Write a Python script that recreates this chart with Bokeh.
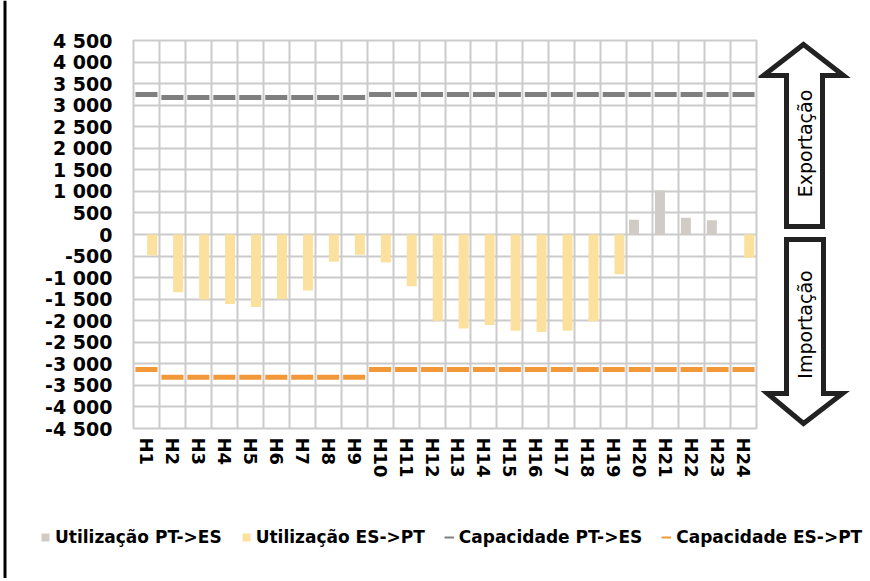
from bokeh.plotting import figure
from bokeh.layouts import row, column
from bokeh.models import (FixedTicker, Legend, LegendItem, ColumnDataSource, Range1d)
from bokeh.embed import file_html
from bokeh.resources import INLINE
from bokeh.core.properties import value
import math

# ---------------- data ----------------
hours = ["H1", "H2", "H3", "H4", "H5", "H6", "H7", "H8", "H9", "H10", "H11", "H12",
         "H13", "H14", "H15", "H16", "H17", "H18", "H19", "H20", "H21", "H22", "H23", "H24"]
util_pt_es = [0, 0, 0, 0, 0, 0, 0, 0, 0, 0, 0, 0,
              0, 0, 0, 0, 0, 0, 0, 340, 1020, 390, 330, 0]
util_es_pt = [-490, -1340, -1510, -1610, -1680, -1500, -1300, -630, -470, -650, -1200, -2000,
              -2180, -2100, -2230, -2260, -2230, -2010, -920, 0, 0, 0, 0, -540]
cap_pt_es = [3250, 3180, 3180, 3180, 3180, 3180, 3180, 3180, 3180, 3250, 3250, 3250,
             3250, 3250, 3250, 3250, 3250, 3250, 3250, 3250, 3250, 3250, 3250, 3250]
cap_es_pt = [-3130, -3310, -3310, -3310, -3310, -3310, -3310, -3310, -3310, -3130, -3130, -3130,
             -3130, -3130, -3130, -3130, -3130, -3130, -3130, -3130, -3130, -3130, -3130, -3130]
y_ticks = [-4500, -4000, -3500, -3000, -2500, -2000, -1500, -1000, -500, 0,
           500, 1000, 1500, 2000, 2500, 3000, 3500, 4000, 4500]
y_labels = ["-4 500", "-4 000", "-3 500", "-3 000", "-2 500", "-2 000", "-1 500", "-1 000", "-500", "0",
            "500", "1 000", "1 500", "2 000", "2 500", "3 000", "3 500", "4 000", "4 500"]
legend_labels = ["Utilização PT->ES", "Utilização ES->PT", "Capacidade PT->ES", "Capacidade ES->PT"]
arrow_labels = ["Exportação", "Importação"]

# ---------------- style ----------------
FONT = "DejaVu Sans"
C_PT = "#d0cbc5"
C_ES = "#fbe19d"
C_CAP_PT = "#7f7f7f"
C_CAP_ES = "#f29838"
GRID = "#cbcbcb"
INK = "#222222"

# ---------------- main chart ----------------
xpos = list(range(1, len(hours) + 1))
src = ColumnDataSource(dict(
    x=xpos,
    x_pt=[v - 0.22 for v in xpos],
    x_es=[v + 0.22 for v in xpos],
    pt=util_pt_es, es=util_es_pt, cpt=cap_pt_es, ces=cap_es_pt,
))

p = figure(frame_width=623, frame_height=388,
           x_range=(0.5, len(hours) + 0.5), y_range=(-4500, 4500),
           output_backend="svg", toolbar_location=None,
           min_border_left=125, min_border_right=2,
           min_border_top=40, min_border_bottom=72)
p.background_fill_color = "white"
p.border_fill_color = "white"
p.outline_line_color = GRID
p.outline_line_width = 2

p.xgrid.ticker = FixedTicker(ticks=[v - 0.5 for v in xpos] + [len(hours) + 0.5])
p.xgrid.grid_line_color = GRID
p.xgrid.grid_line_width = 2
p.ygrid.ticker = FixedTicker(ticks=y_ticks)
p.ygrid.grid_line_color = GRID
p.ygrid.grid_line_width = 2

p.yaxis.ticker = FixedTicker(ticks=y_ticks)
p.yaxis.major_label_overrides = {t: l for t, l in zip(y_ticks, y_labels)}
p.xaxis.ticker = FixedTicker(ticks=xpos)
p.xaxis.major_label_overrides = {t: l for t, l in zip(xpos, hours)}
p.xaxis.major_label_orientation = "vertical"
for ax in (p.xaxis[0], p.yaxis[0]):
    ax.axis_line_color = None
    ax.major_tick_line_color = None
    ax.minor_tick_line_color = None
    ax.major_tick_out = 0
    ax.major_tick_in = 0
    ax.major_label_text_font = FONT
    ax.major_label_text_font_style = "bold"
    ax.major_label_text_font_size = "19px"
    ax.major_label_text_color = "black"
p.xaxis.major_label_text_font_size = "18px"
p.yaxis.major_label_standoff = 21
p.xaxis.major_label_standoff = 9

p.vbar(x="x_pt", top="pt", bottom=0, width=0.385, source=src,
       fill_color=C_PT, line_color=None)
p.vbar(x="x_es", top="es", bottom=0, width=0.385, source=src,
       fill_color=C_ES, line_color=None)
p.rect(x="x", y="cpt", width=0.85, height=5, height_units="screen", source=src,
       fill_color=C_CAP_PT, line_color=None)
p.rect(x="x", y="ces", width=0.85, height=5, height_units="screen", source=src,
       fill_color=C_CAP_ES, line_color=None)

# ---------------- arrows panel (frame aligned with main frame: page-pixel coords) ----------------
a = figure(width=110, height=500, x_range=Range1d(758, 868), y_range=Range1d(428, 40),
           output_backend="svg", toolbar_location=None,
           x_axis_type=None, y_axis_type=None,
           min_border_left=0, min_border_right=0, min_border_top=40, min_border_bottom=72)
a.grid.visible = False
a.outline_line_color = None
a.background_fill_color = "white"
a.border_fill_color = "white"
arrow_src = ColumnDataSource(dict(
    xs=[[803, 843, 822, 822, 786, 786, 763], [786, 823, 823, 842, 803, 767, 786]],
    ys=[[44, 75, 75, 226, 226, 75, 75], [239, 239, 393, 393, 423, 393, 393]],
))
a.patches(xs="xs", ys="ys", source=arrow_src, fill_color="white",
          line_color=INK, line_width=5, line_join="miter")
lab_src = ColumnDataSource(dict(x=[804, 804], y=[143, 324], t=arrow_labels))
a.text(x="x", y="y", text="t", source=lab_src, angle=math.pi / 2,
       text_align="center", text_baseline="middle",
       text_font=value(FONT), text_font_size="19px", text_color="black")

# ---------------- left frame line ----------------
b = figure(width=8, height=578, x_range=Range1d(0, 8), y_range=Range1d(0, 1),
           output_backend="svg", toolbar_location=None,
           x_axis_type=None, y_axis_type=None,
           min_border_left=0, min_border_right=0, min_border_top=0, min_border_bottom=0)
b.grid.visible = False
b.outline_line_color = None
b.background_fill_color = "white"
b.border_fill_color = "white"
b.quad(left=[3], right=[6], bottom=[0], top=[1], fill_color="black", line_color=None)

# ---------------- legend panel ----------------
g = figure(width=860, height=78, x_range=Range1d(0, 1), y_range=Range1d(0, 1),
           output_backend="svg", toolbar_location=None,
           x_axis_type=None, y_axis_type=None,
           min_border_left=0, min_border_right=0, min_border_top=0, min_border_bottom=0)
g.grid.visible = False
g.outline_line_color = None
g.background_fill_color = "white"
g.border_fill_color = "white"
# legend proxies (kept outside the visible range)
r1 = g.vbar(x=[-5], top=[-5], bottom=[-6], width=0.1, fill_color=C_PT, line_color=None)
r2 = g.vbar(x=[-5], top=[-5], bottom=[-6], width=0.1, fill_color=C_ES, line_color=None)
r3 = g.line(x=[-5, -4], y=[-5, -5], line_color=C_CAP_PT, line_width=2)
r4 = g.line(x=[-5, -4], y=[-5, -5], line_color=C_CAP_ES, line_width=2)
legend = Legend(items=[
    LegendItem(label=legend_labels[0], renderers=[r1]),
    LegendItem(label=legend_labels[1], renderers=[r2]),
    LegendItem(label=legend_labels[2], renderers=[r3]),
    LegendItem(label=legend_labels[3], renderers=[r4]),
], orientation="horizontal", location=(32, 31))
legend.label_text_font = FONT
legend.label_text_font_style = "bold"
legend.label_text_font_size = "17px"
legend.label_text_color = "black"
legend.label_height = 20
legend.glyph_width = 10
legend.glyph_height = 10
legend.label_standoff = 5
legend.spacing = 19
legend.padding = 0
legend.margin = 0
legend.border_line_color = None
legend.background_fill_alpha = 0
g.add_layout(legend)

layout = row(b, column(row(p, a), g))
open("out.html", "w").write(file_html(layout, INLINE))
